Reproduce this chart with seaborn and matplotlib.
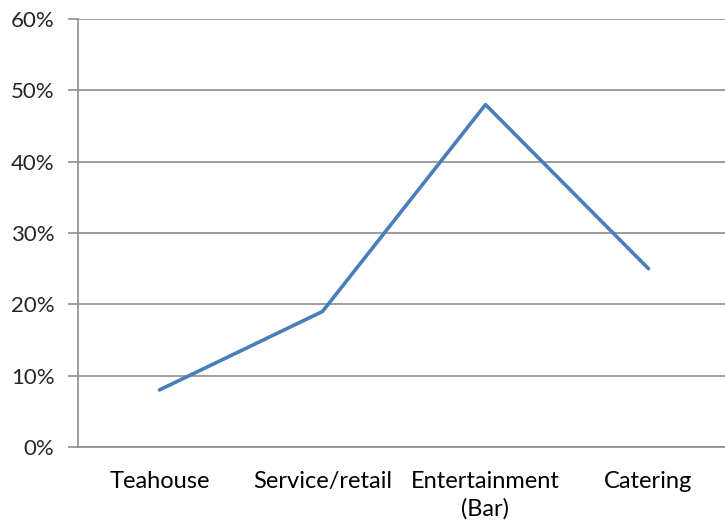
import matplotlib
matplotlib.use("Agg")
import matplotlib.pyplot as plt
import seaborn as sns
import pandas as pd
from matplotlib.ticker import FuncFormatter

categories = ["Teahouse", "Service/retail", "Entertainment\n(Bar)", "Catering"]
values = [0.08, 0.19, 0.48, 0.25]
y_ticks = [0.0, 0.1, 0.2, 0.3, 0.4, 0.5, 0.6]

df = pd.DataFrame({"category": categories, "value": values})

sns.set_style("white")
plt.rcParams["font.family"] = ["Lato", "DejaVu Sans"]

fig = plt.figure(figsize=(7.25, 5.23), dpi=100)
ax = fig.add_axes([78 / 725, 1 - 447 / 523, 652 / 725, (447 - 19) / 523])

sns.lineplot(data=df, x="category", y="value", ax=ax, color="#4A7EBB",
             linewidth=2.6, sort=False)

ax.set_xlim(-0.5, len(categories) - 0.5)
ax.set_ylim(0, 0.6)
ax.set_yticks(y_ticks)
ax.yaxis.set_major_formatter(FuncFormatter(lambda v, p: f"{v*100:.0f}%"))
ax.grid(axis="y", color="#8C8C8C", linewidth=1.2)
ax.set_axisbelow(True)

ax.set_xticks(range(len(categories)))
ax.set_xticklabels(categories, linespacing=1.35)
ax.set_xticks([i - 0.5 for i in range(len(categories) + 1)], minor=True)
ax.tick_params(axis="x", which="major", length=0, pad=17, labelsize=17, colors="#000000")
ax.tick_params(axis="x", which="minor", length=7, width=1.2, color="#8C8C8C", direction="out")
ax.tick_params(axis="y", length=7, width=1.2, color="#8C8C8C", direction="out", pad=10,
               labelsize=16, left=True)

for s in ["top", "right"]:
    ax.spines[s].set_visible(False)
for s in ["left", "bottom"]:
    ax.spines[s].set_visible(True)
    ax.spines[s].set_color("#8C8C8C")
    ax.spines[s].set_linewidth(1.2)

ax.set_xlabel("")
ax.set_ylabel("")

fig.savefig("out.png", dpi=100)
